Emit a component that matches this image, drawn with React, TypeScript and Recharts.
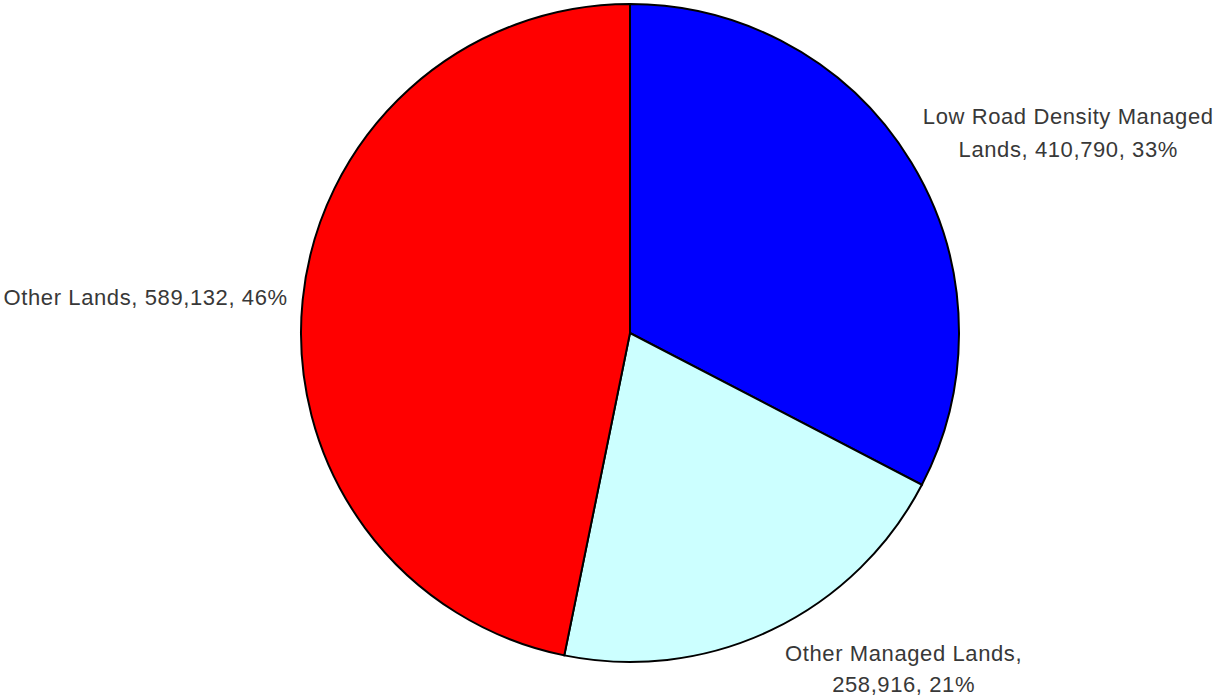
import React from "react";
import { PieChart, Pie, Cell } from "recharts";

const categories = ["Low Road Density Managed Lands", "Other Managed Lands", "Other Lands"];
const values = [410790, 258916, 589132];
const labelLines = [
  ["Low Road Density Managed", "Lands, 410,790, 33%"],
  ["Other Managed Lands,", "258,916, 21%"],
  ["Other Lands, 589,132, 46%"],
];
const colors = ["#0000FF", "#CCFFFF", "#FF0000"];
// label centre offsets from the slice's outer-edge midpoint
const labelOffsets = [
  { dx: 157, dy: -30, lh: 33 },
  { dx: 132, dy: 39, lh: 31 },
  { dx: -157, dy: -3, lh: 33 },
];

const data = categories.map((name, i) => ({ name, value: values[i] }));

const RAD = Math.PI / 180;

const renderLabel = (props: any) => {
  const { cx, cy, midAngle, outerRadius, index } = props;
  const ex = cx + outerRadius * Math.cos(-midAngle * RAD);
  const ey = cy + outerRadius * Math.sin(-midAngle * RAD);
  const off = labelOffsets[index];
  const x = ex + off.dx;
  const y = ey + off.dy;
  const lines = labelLines[index];
  const lh = off.lh;
  const startY = y - ((lines.length - 1) * lh) / 2;
  return (
    <text
      key={`lbl-${index}`}
      x={x}
      y={startY}
      textAnchor="middle"
      dominantBaseline="central"
      fill="#383838"
      fontSize={22}
      letterSpacing={0.6}
      fontFamily="'Liberation Sans', Arial, sans-serif"
    >
      {lines.map((l, j) => (
        <tspan key={j} x={x} y={startY + j * lh} dominantBaseline="central">
          {l}
        </tspan>
      ))}
    </text>
  );
};

export default function App() {
  return (
    <div style={{ position: "absolute", left: 0, top: 0, width: 1219, height: 698, background: "#fff" }}>
      <PieChart width={1219} height={698} margin={{ top: 0, right: 0, bottom: 0, left: 0 }}>
        <Pie
          data={data}
          dataKey="value"
          nameKey="name"
          cx={630}
          cy={333}
          outerRadius={329}
          startAngle={90}
          endAngle={-270}
          stroke="#000"
          strokeWidth={2}
          label={renderLabel}
          labelLine={false}
          isAnimationActive={false}
        >
          {data.map((d, i) => (
            <Cell key={d.name} fill={colors[i]} />
          ))}
        </Pie>
      </PieChart>
    </div>
  );
}
